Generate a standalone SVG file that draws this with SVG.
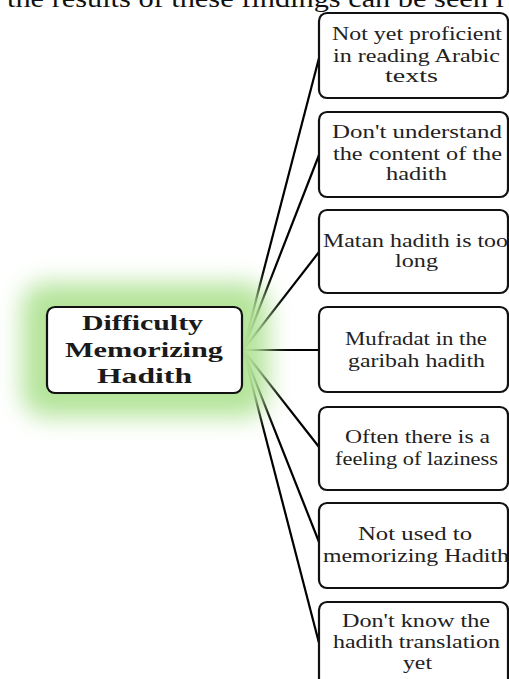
<svg xmlns="http://www.w3.org/2000/svg" width="509" height="679" viewBox="0 0 509 679">
<style>
.box{fill:#fff;stroke:#111;stroke-width:2.2}
.t{font-family:"Liberation Serif",serif;font-size:18px;fill:#222}
.c{font-family:"Liberation Serif",serif;font-size:22px;font-weight:bold;fill:#1a1a1a}
.top{font-family:"Liberation Serif",serif;font-size:26px;fill:#111}
#connectors line{stroke:#000;stroke-width:2.2}
</style>
<defs>
<filter id="glow" x="-40%" y="-60%" width="180%" height="220%">
<feGaussianBlur stdDeviation="12"/>
</filter>
</defs>
<text class="top" x="7" y="7" textLength="497" lengthAdjust="spacingAndGlyphs">the results of these findings can be seen i</text>
<g id="connectors">
<line x1="243" y1="350" x2="319" y2="58"/>
<line x1="243" y1="350" x2="319" y2="155"/>
<line x1="243" y1="350" x2="319" y2="252"/>
<line x1="243" y1="350" x2="319" y2="350"/>
<line x1="243" y1="350" x2="319" y2="447"/>
<line x1="243" y1="350" x2="319" y2="542"/>
<line x1="243" y1="350" x2="319" y2="643"/>
</g>
<g id="center">
<rect x="22" y="283" width="246" height="134" rx="24" fill="#b4e49a" filter="url(#glow)"/>
<rect class="box" x="47" y="307" width="195" height="86" rx="8"/>
<text class="c" x="82" y="330" textLength="121" lengthAdjust="spacingAndGlyphs">Difficulty</text>
<text class="c" x="65" y="357" textLength="158" lengthAdjust="spacingAndGlyphs">Memorizing</text>
<text class="c" x="97" y="383" textLength="95" lengthAdjust="spacingAndGlyphs">Hadith</text>
</g>
<g id="n1">
<rect class="box" x="319" y="13" width="189" height="85" rx="8"/>
<text class="t" x="332" y="40" textLength="170" lengthAdjust="spacingAndGlyphs">Not yet proficient</text>
<text class="t" x="333" y="62" textLength="167" lengthAdjust="spacingAndGlyphs">in reading Arabic</text>
<text class="t" x="385" y="82" textLength="53" lengthAdjust="spacingAndGlyphs">texts</text>
</g>
<g id="n2">
<rect class="box" x="319" y="112" width="189" height="85" rx="8"/>
<text class="t" x="332" y="138" textLength="170" lengthAdjust="spacingAndGlyphs">Don't understand</text>
<text class="t" x="333" y="160" textLength="169" lengthAdjust="spacingAndGlyphs">the content of the</text>
<text class="t" x="386" y="180" textLength="61" lengthAdjust="spacingAndGlyphs">hadith</text>
</g>
<g id="n3">
<rect class="box" x="319" y="210" width="189" height="83" rx="8"/>
<text class="t" x="323" y="247" textLength="185" lengthAdjust="spacingAndGlyphs">Matan hadith is too</text>
<text class="t" x="395" y="267" textLength="43" lengthAdjust="spacingAndGlyphs">long</text>
</g>
<g id="n4">
<rect class="box" x="319" y="307" width="189" height="85" rx="8"/>
<text class="t" x="345" y="345" textLength="142" lengthAdjust="spacingAndGlyphs">Mufradat in the</text>
<text class="t" x="348" y="367" textLength="137" lengthAdjust="spacingAndGlyphs">garibah hadith</text>
</g>
<g id="n5">
<rect class="box" x="319" y="407" width="189" height="83" rx="8"/>
<text class="t" x="345" y="443" textLength="145" lengthAdjust="spacingAndGlyphs">Often there is a</text>
<text class="t" x="335" y="465" textLength="163" lengthAdjust="spacingAndGlyphs">feeling of laziness</text>
</g>
<g id="n6">
<rect class="box" x="319" y="503" width="189" height="85" rx="8"/>
<text class="t" x="358" y="540" textLength="114" lengthAdjust="spacingAndGlyphs">Not used to</text>
<text class="t" x="323" y="562" textLength="186" lengthAdjust="spacingAndGlyphs">memorizing Hadith</text>
</g>
<g id="n7">
<rect class="box" x="319" y="602" width="189" height="100" rx="8"/>
<text class="t" x="342" y="627" textLength="148" lengthAdjust="spacingAndGlyphs">Don't know the</text>
<text class="t" x="333" y="648" textLength="167" lengthAdjust="spacingAndGlyphs">hadith translation</text>
<text class="t" x="403" y="669" textLength="29" lengthAdjust="spacingAndGlyphs">yet</text>
</g>
</svg>
